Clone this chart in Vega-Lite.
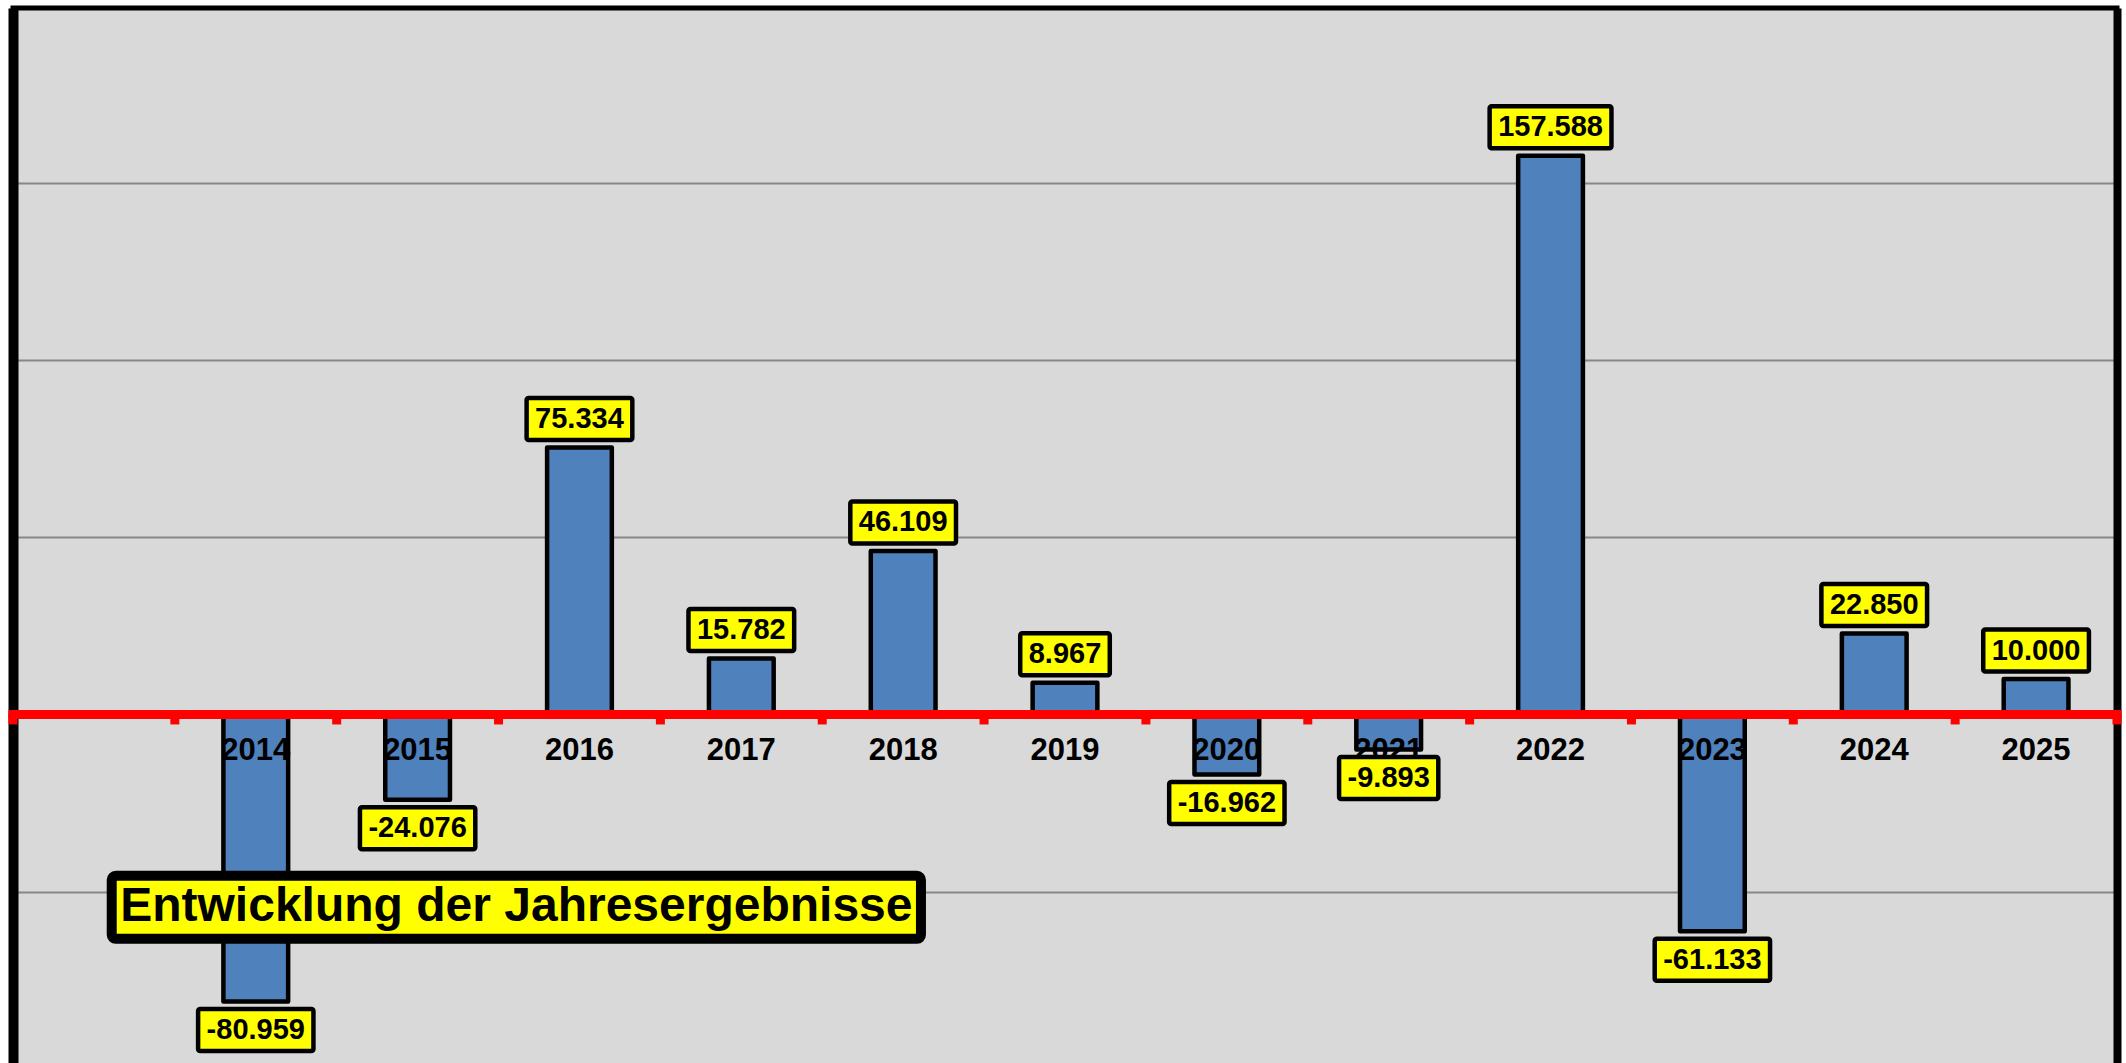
{
  "$schema": "https://vega.github.io/schema/vega-lite/v6.json",
  "width": 2104,
  "height": 1055,
  "autosize": {"type": "none"},
  "padding": {"left": 13, "top": 8, "right": 9, "bottom": 0},
  "background": "#ffffff",
  "view": {"fill": "#d9d9d9", "stroke": null},
  "datasets": {
    "results": [
      {"year": "2014", "value": -80959},
      {"year": "2015", "value": -24076},
      {"year": "2016", "value": 75334},
      {"year": "2017", "value": 15782},
      {"year": "2018", "value": 46109},
      {"year": "2019", "value": 8967},
      {"year": "2020", "value": -16962},
      {"year": "2021", "value": -9893},
      {"year": "2022", "value": 157588},
      {"year": "2023", "value": -61133},
      {"year": "2024", "value": 22850},
      {"year": "2025", "value": 10000}
    ]
  },
  "layer": [
    {
      "data": {"name": "results"},
      "transform": [
        {"calculate": "(datum.value < 0 ? '-' : '') + replace(format(abs(datum.value), ','), ',', '.')", "as": "label"},
        {"calculate": "29 * (0.556 * (length(datum.label) - 1 - (datum.value < 0 ? 1 : 0)) + 0.278 + (datum.value < 0 ? 0.333 : 0)) + 17", "as": "boxw"}
      ],
      "layer": [
        {
          "mark": {"type": "bar", "width": {"band": 0.4}, "fill": "#4f81bd", "stroke": "#000000", "strokeWidth": 4.5, "strokeJoin": "round"},
          "encoding": {
            "x": {
              "field": "year", "type": "nominal", "sort": null,
              "scale": {"domain": [" ", "2014", "2015", "2016", "2017", "2018", "2019", "2020", "2021", "2022", "2023", "2024", "2025"], "padding": 0},
              "axis": null
            },
            "y": {
              "field": "value", "type": "quantitative",
              "scale": {"domain": [-98320, 199280], "nice": false, "zero": false},
              "axis": {"orient": "left", "values": [-50000, 0, 50000, 100000, 150000], "grid": true, "gridColor": "#878787", "gridWidth": 2, "labels": false, "ticks": false, "domain": true, "domainColor": "#000000", "domainWidth": 10, "title": null}
            }
          }
        },
        {
          "mark": {"type": "rule", "color": "#ff0000", "strokeWidth": 9, "y2Offset": 10},
          "encoding": {
            "x": {"field": "year", "type": "nominal", "bandPosition": 0, "axis": null},
            "y": {"datum": 0, "type": "quantitative", "axis": null},
            "y2": {"datum": 0}
          }
        },
        {
          "data": {"values": [{}]},
          "mark": {"type": "rule", "color": "#ff0000", "strokeWidth": 9, "y2Offset": 10},
          "encoding": {
            "x": {"datum": " ", "type": "nominal", "bandPosition": 0, "axis": null},
            "y": {"datum": 0, "type": "quantitative", "axis": null},
            "y2": {"datum": 0}
          }
        },
        {
          "data": {"values": [{}]},
          "mark": {"type": "rule", "color": "#ff0000", "strokeWidth": 9, "y2Offset": 10},
          "encoding": {
            "x": {"datum": "2025", "type": "nominal", "bandPosition": 1, "axis": null},
            "y": {"datum": 0, "type": "quantitative", "axis": null},
            "y2": {"datum": 0}
          }
        },
        {
          "data": {"values": [{}]},
          "mark": {"type": "rule", "color": "#ff0000", "strokeWidth": 9, "strokeCap": "square"},
          "encoding": {
            "y": {"datum": 0, "type": "quantitative", "axis": {"orient": "right", "grid": false, "labels": false, "ticks": false, "domain": true, "domainColor": "#000000", "domainWidth": 8, "title": null}}
          }
        },
        {
          "data": {"values": [{}]},
          "mark": {"type": "rule", "color": "#000000", "strokeWidth": 5, "strokeCap": "square"},
          "encoding": {
            "y": {"datum": 199280, "type": "quantitative", "axis": null}
          }
        },
        {
          "mark": {"type": "text", "font": "Liberation Sans", "fontWeight": "bold", "fontSize": 31, "color": "#000000", "align": "center", "baseline": "middle", "dy": 37},
          "encoding": {
            "x": {"field": "year", "type": "nominal", "axis": null},
            "y": {"datum": 0, "type": "quantitative", "axis": null},
            "text": {"field": "year"}
          }
        },
        {
          "transform": [{"filter": "datum.value > 0"}],
          "layer": [
            {
              "mark": {"type": "bar", "fill": "#ffff00", "stroke": "#000000", "strokeWidth": 4.5, "cornerRadius": 2, "yOffset": -7.5, "y2Offset": -49.5},
              "encoding": {
                "x": {"field": "year", "type": "nominal", "axis": null},
                "y": {"field": "value", "type": "quantitative", "axis": null},
                "y2": {"field": "value"},
                "size": {"field": "boxw", "type": "quantitative", "scale": null, "legend": null}
              }
            },
            {
              "mark": {"type": "text", "font": "Liberation Sans", "fontWeight": "bold", "fontSize": 29, "color": "#000000", "align": "center", "baseline": "middle", "dy": -28.5},
              "encoding": {
                "x": {"field": "year", "type": "nominal", "axis": null},
                "y": {"field": "value", "type": "quantitative", "axis": null},
                "text": {"field": "label"}
              }
            }
          ]
        },
        {
          "transform": [{"filter": "datum.value < 0"}],
          "layer": [
            {
              "mark": {"type": "bar", "fill": "#ffff00", "stroke": "#000000", "strokeWidth": 4.5, "cornerRadius": 2, "yOffset": 7.5, "y2Offset": 49.5},
              "encoding": {
                "x": {"field": "year", "type": "nominal", "axis": null},
                "y": {"field": "value", "type": "quantitative", "axis": null},
                "y2": {"field": "value"},
                "size": {"field": "boxw", "type": "quantitative", "scale": null, "legend": null}
              }
            },
            {
              "mark": {"type": "text", "font": "Liberation Sans", "fontWeight": "bold", "fontSize": 29, "color": "#000000", "align": "center", "baseline": "middle", "dy": 28.5},
              "encoding": {
                "x": {"field": "year", "type": "nominal", "axis": null},
                "y": {"field": "value", "type": "quantitative", "axis": null},
                "text": {"field": "label"}
              }
            }
          ]
        }
      ],
      "resolve": {"axis": {"y": "independent"}}
    },
    {
      "data": {"values": [{"label": "Entwicklung der Jahresergebnisse"}]},
      "layer": [
        {
          "mark": {"type": "rect", "fill": "#ffff00", "stroke": "#000000", "strokeWidth": 10, "cornerRadius": 4},
          "encoding": {
            "x": {"datum": 0.61, "type": "quantitative", "scale": {"domain": [0, 13], "nice": false, "zero": false}, "axis": null},
            "x2": {"datum": 5.61},
            "y": {"datum": -45500, "type": "quantitative", "scale": {"domain": [-98320, 199280], "nice": false, "zero": false}, "axis": null},
            "y2": {"datum": -63300}
          }
        },
        {
          "mark": {"type": "text", "font": "Liberation Sans", "fontWeight": "bold", "fontSize": 48, "color": "#000000", "align": "center", "baseline": "middle"},
          "encoding": {
            "x": {"datum": 3.11, "type": "quantitative", "axis": null},
            "y": {"datum": -54400, "type": "quantitative", "axis": null},
            "text": {"field": "label"}
          }
        }
      ]
    }
  ],
  "resolve": {"scale": {"x": "independent"}, "axis": {"x": "independent", "y": "independent"}}
}
